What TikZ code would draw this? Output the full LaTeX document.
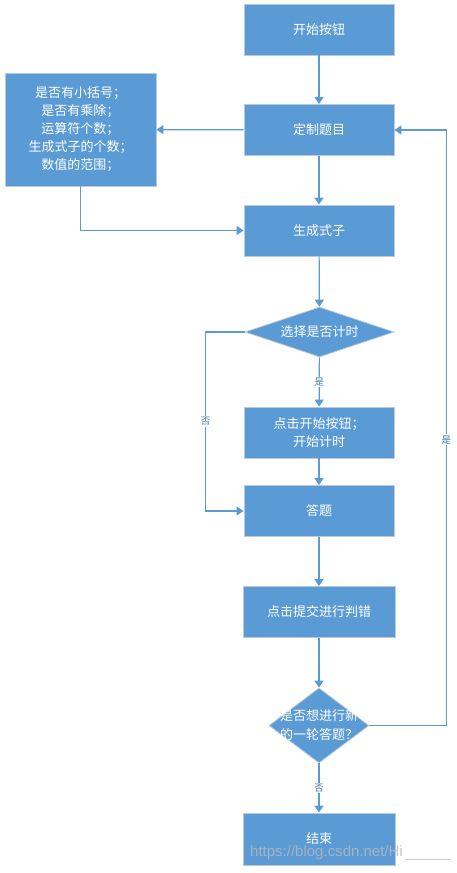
\documentclass[tikz,border=0pt]{standalone}
\usepackage{fontspec}
\setmainfont{Noto Sans CJK SC}
\newfontfamily\wmfont{Liberation Sans}
\usetikzlibrary{shapes.geometric, arrows.meta, positioning}
\definecolor{qzBlue}{HTML}{5B9BD5}
\definecolor{qzEdge}{HTML}{BCC9D8}
\definecolor{qzLine}{HTML}{5B9BD5}
\tikzset{
  qzbox/.style={rectangle, draw=qzEdge, fill=qzBlue, line width=0.8pt,
    minimum height=51pt, minimum width=150pt, align=center,
    text=white, font=\fontsize{13}{18}\selectfont},
  qzdiamond/.style={diamond, draw=qzEdge, fill=qzBlue, line width=0.8pt,
    inner sep=0pt},
  qztext/.style={text=white, align=center, font=\fontsize{13}{18}\selectfont},
  qzarrow/.style={-{Triangle[length=7pt,width=9pt]}, line width=1.2pt, qzLine},
  qzlbl/.style={fill=white, inner sep=1pt, text=qzLine!80!black,
    font=\fontsize{9.5}{10}\selectfont}
}

\begin{document}
\begin{tikzpicture}[x=1pt, y=-1pt]
  \useasboundingbox (0,0) rectangle (457,873);
  % main column
  \node[qzbox] (start) at (319,29.5) {开始按钮};
  \node[qzbox] (custom) at (319,130) {定制题目};
  \node[qzbox, minimum width=151pt, minimum height=113pt] (opts) at (80.5,129.5)
    {是否有小括号；\\是否有乘除；\\运算符个数；\\生成式子的个数；\\数值的范围；};
  \node[qzbox] (gen) at (319,230.5) {生成式子};
  \node[qzdiamond, minimum width=149pt, minimum height=50pt] (timer) at (319.5,332) {};
  \node[qztext] at (timer) {选择是否计时};
  \node[qzbox] (click) at (319,432.5) {点击开始按钮；\\开始计时};
  \node[qzbox] (answer) at (319,511) {答题};
  \node[qzbox, minimum width=152pt] (submit) at (319,612) {点击提交进行判错};
  \node[qzdiamond, minimum width=100pt, minimum height=75pt] (again) at (319,725.5) {};
  \node[qztext, font=\fontsize{13}{19}\selectfont] at (again) {是否想进行新\\的一轮答题？};
  \node[qzbox, minimum width=152pt, minimum height=52pt] (stop) at (319,839) {结束};

  % connectors
  \draw[qzarrow] (start) -- (custom);
  \draw[qzarrow] (custom) -- (opts);
  \draw[qzarrow] (custom) -- (gen);
  \draw[qzarrow] (opts.south) |- (gen.west);
  \draw[qzarrow] (gen) -- (timer);
  \draw[qzarrow] (timer) -- node[qzlbl, pos=0.5] {是} (click);
  \draw[qzarrow] (timer.west) -- ++(-39,0) coordinate (noturn)
    |- node[qzlbl, pos=0.25] {否} (answer.west);
  \draw[qzarrow] (click) -- (answer);
  \draw[qzarrow] (answer) -- (submit);
  \draw[qzarrow] (submit) -- (again);
  \draw[qzarrow] (again) -- node[qzlbl, pos=0.5] {否} (stop);
  \draw[qzarrow] (again.east) -- ++(77,0) coordinate (yesturn)
    |- node[qzlbl, pos=0.24] {是} (custom.east);

  % watermark
  \node[anchor=west, text=gray!55, opacity=0.8, inner sep=0pt,
    font=\wmfont\fontsize{15}{15}\selectfont] (wm) at (250,853) {https://blog.csdn.net/Hi};
  \draw[gray!40, line width=0.6pt] (wm.south east) ++(2,-1) -- ++(46,0);
\end{tikzpicture}
\end{document}
